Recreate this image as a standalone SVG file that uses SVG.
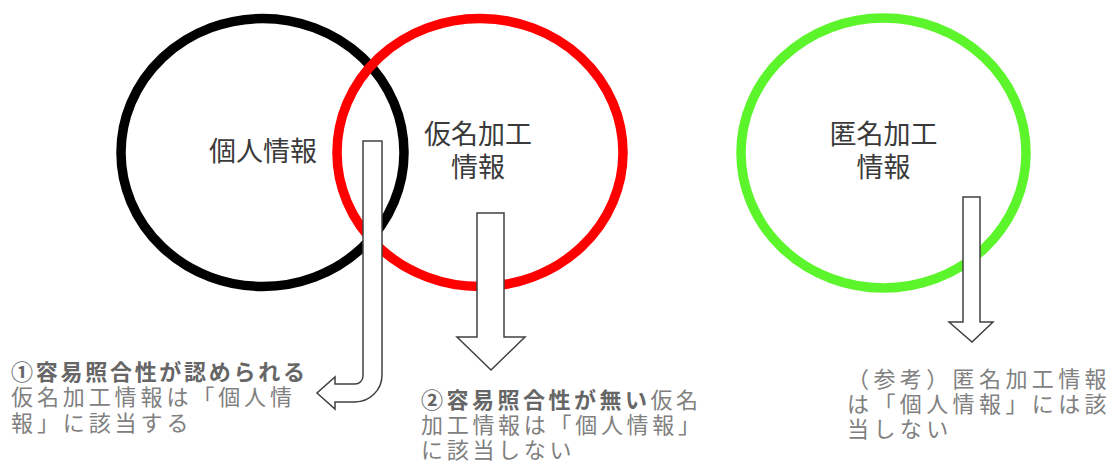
<svg xmlns="http://www.w3.org/2000/svg" width="1112" height="469" viewBox="0 0 1112 469">
<style>
.c{fill:none;stroke-width:9.5}
.lbl{font-family:"Noto Sans CJK JP","Noto Sans",sans-serif;font-size:27px;fill:#3a3a3a;text-anchor:middle}
.note{font-family:"Noto Sans CJK JP","Noto Sans",sans-serif;font-size:22px;fill:#808080}
.b{font-weight:bold;fill:#666666}
.arr{fill:#ffffff;stroke:#404040;stroke-width:1.5;stroke-linejoin:miter}
</style>
<rect width="1112" height="469" fill="#ffffff"/>
<g id="node-personal">
<ellipse class="c" cx="262.5" cy="152.5" rx="141.5" ry="134" stroke="#000000"/>
<text class="lbl" x="263" y="161">個人情報</text>
</g>
<g id="node-pseudonymous">
<ellipse class="c" cx="480" cy="152.5" rx="143" ry="134" stroke="#ff0000"/>
<text class="lbl" x="478" y="144">仮名加工</text>
<text class="lbl" x="478" y="177">情報</text>
</g>
<g id="node-anonymous">
<ellipse class="c" cx="883.5" cy="153" rx="142.5" ry="135" stroke="#5cf52c"/>
<text class="lbl" x="883.5" y="144">匿名加工</text>
<text class="lbl" x="883.5" y="177">情報</text>
</g>
<g id="connectors">
<path class="arr" d="M363,141 H382 V375 A27,27 0 0 1 355,402 H335 V409 L317,393 L335,377 V384 H355 A8,8 0 0 0 363,376 Z"/>
<path class="arr" d="M477,213 H504 V337 H525 L491,370 L457,337 H477 Z"/>
<path class="arr" d="M963,197 H980 V322 H993 L972,342 L949,322 H963 Z"/>
</g>
<g id="note-1">
<text class="note b" x="11" y="380" textLength="294" lengthAdjust="spacing">①容易照合性が認められる</text>
<text class="note" x="11" y="405" letter-spacing="3.9">仮名加工情報は「個人情</text>
<text class="note" x="11" y="431" letter-spacing="3.9">報」に該当する</text>
</g>
<g id="note-2">
<text class="note" x="421" y="408" letter-spacing="3.5"><tspan class="b">②容易照合性が無い</tspan>仮名</text>
<text class="note" x="421" y="433" letter-spacing="3.7">加工情報は「個人情報」</text>
<text class="note" x="421" y="458" letter-spacing="3.7">に該当しない</text>
</g>
<g id="note-3">
<text class="note" x="847" y="387" letter-spacing="4.4">（参考）匿名加工情報</text>
<text class="note" x="847" y="412" letter-spacing="4.4">は「個人情報」には該</text>
<text class="note" x="847" y="437" letter-spacing="4.4">当しない</text>
</g>
</svg>
